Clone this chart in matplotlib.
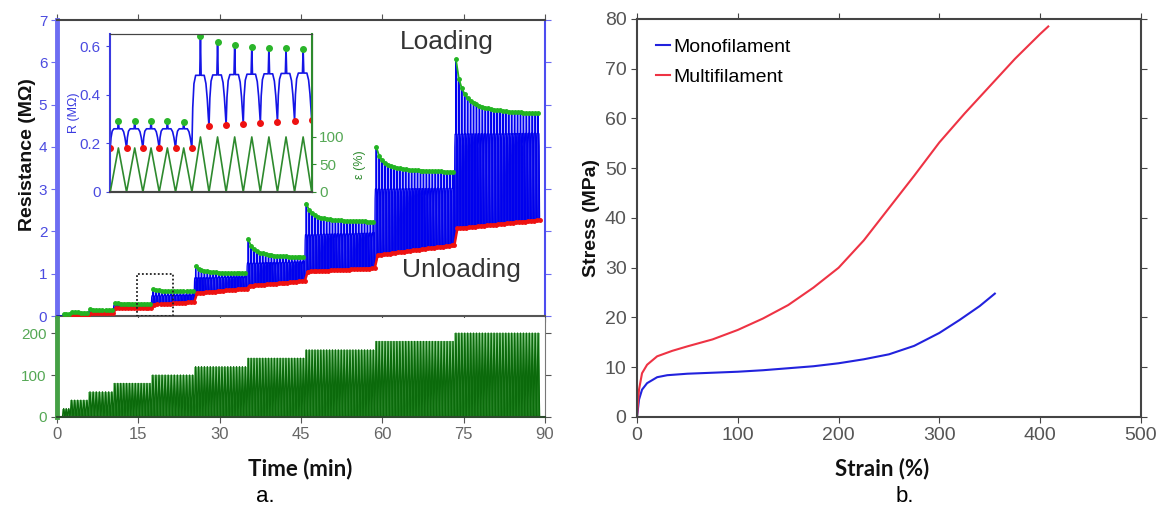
import matplotlib.pyplot as plt
import numpy as np
from matplotlib.patches import Rectangle

# ---- panel a: cyclic test, one entry per strain step ----
step_start = [1.0, 2.4, 5.8, 10.4, 17.4, 25.3, 35.0, 45.7, 58.6, 73.3]
step_end = [2.4, 5.8, 10.4, 17.4, 25.3, 35.0, 45.7, 58.6, 73.3, 89.0]
strain_level = [20, 40, 60, 80, 100, 120, 140, 160, 180, 200]
n_cycles = [3, 6, 8, 13, 14, 18, 20, 24, 27, 29]
peak_first = [0.04, 0.09, 0.16, 0.30, 0.64, 1.18, 1.81, 2.66, 4.00, 6.07]
peak_last = [0.04, 0.08, 0.14, 0.29, 0.58, 1.01, 1.39, 2.23, 3.41, 4.79]
plateau_first = [0.03, 0.06, 0.12, 0.26, 0.48, 0.90, 1.25, 1.92, 3.00, 4.30]
plateau_last = [0.03, 0.06, 0.12, 0.26, 0.50, 0.93, 1.28, 1.96, 3.02, 4.32]
valley_first = [0.00, 0.02, 0.06, 0.18, 0.27, 0.54, 0.71, 1.05, 1.44, 2.07]
valley_last = [0.01, 0.03, 0.08, 0.18, 0.33, 0.65, 0.83, 1.13, 1.68, 2.27]

# shape of one resistance cycle: phase in cycle, share of valley->plateau rise (nan = peak)
cycle_phase = [0.0, 0.05, 0.12, 0.22, 0.46, 0.5, 0.54, 0.72, 0.82, 0.9, 0.96]
cycle_shape = [0.0, 0.55, 0.88, 1.0, 1.0, np.nan, 1.0, 1.0, 0.85, 0.55, 0.2]

inset_window = [14.70, 21.36]
box_top = 0.99

# ---- panel b: tensile curves ----
mono_strain = [0, 2, 5, 10, 20, 30, 50, 75, 100, 125, 150, 175, 200, 225, 250, 275, 300, 320, 340, 355]
mono_stress = [0, 3.5, 5.5, 6.8, 8.0, 8.4, 8.7, 8.9, 9.1, 9.4, 9.8, 10.2, 10.8, 11.6, 12.6, 14.3, 16.9, 19.5, 22.3, 24.8]
multi_strain = [0, 2, 5, 10, 20, 35, 50, 75, 100, 125, 150, 175, 200, 225, 250, 275, 300, 325, 350, 375, 400, 408]
multi_stress = [0, 5.5, 8.8, 10.5, 12.2, 13.3, 14.2, 15.6, 17.5, 19.8, 22.5, 26.0, 30.0, 35.5, 42.0, 48.5, 55.2, 61.0, 66.5, 72.0, 77.0, 78.5]

# build the cycle sequence
t_R, R, base_R, plat_R = [0.0], [0.0], [0.0], [0.0]
t_eps, eps = [0.0], [0.0]
t_vl, vl = [], []
steps_pk = []
v_prev = 0.0
for i in range(len(step_start)):
    n = n_cycles[i]
    period = (step_end[i] - step_start[i]) / n
    w = 1 / (1 + np.arange(n) / 2)
    w = (w - w[-1]) / (1 - w[-1])
    frac = np.arange(n) / max(n - 1, 1)
    peaks = peak_last[i] + (peak_first[i] - peak_last[i]) * w
    plats = plateau_first[i] + (plateau_last[i] - plateau_first[i]) * frac
    valleys = valley_first[i] + (valley_last[i] - valley_first[i]) * frac
    tp = []
    for k in range(n):
        t0 = step_start[i] + k * period
        v0, v1 = v_prev, valleys[k]
        for ph, sh in zip(cycle_phase, cycle_shape):
            b = v0 + (v1 - v0) * ph
            t_R.append(t0 + ph * period)
            R.append(peaks[k] if np.isnan(sh) else b + sh * (plats[k] - b))
            base_R.append(b)
            plat_R.append(plats[k])
        t_eps += [t0, t0 + period / 2]
        eps += [0, strain_level[i]]
        tp.append(t0 + period / 2)
        t_vl.append(t0 + period)
        vl.append(v1)
        v_prev = v1
    steps_pk.append((np.array(tp), peaks, plats))
t_R.append(t_vl[-1]); R.append(vl[-1]); base_R.append(vl[-1]); plat_R.append(vl[-1])
t_eps.append(step_end[-1]); eps.append(0)
t_R = np.array(t_R); R = np.array(R)
base_R = np.array(base_R); plat_R = np.array(plat_R)

fig = plt.figure(figsize=(11.57, 5.09), dpi=100)
plt.rcParams['font.family'] = ['Liberation Sans', 'DejaVu Sans']

blue_tick = '#4b4be0'
green_tick = '#55a855'
gray = '#555555'

# top: resistance
ax = fig.add_axes([0.04927, 0.37917, 0.42178, 0.58153])
for tp, pk, pl in steps_pk:
    ax.fill_between(tp, pl, pk, color='#b8b8ff', lw=0, zorder=1)
ax.fill_between(t_R, base_R, np.minimum(R, plat_R), color='#1010e8', lw=0, zorder=2)
ax.plot(t_R, R, color='#0000ee', lw=0.9, zorder=3)
ax.plot(t_vl, vl, color='#ee1111', lw=1.8, marker='o', ms=2.5, zorder=4)
for tp, pk, pl in steps_pk:
    ax.plot(tp, pk, color='#22b422', lw=1.3, marker='o', ms=2.5, zorder=4)
ax.add_patch(Rectangle((inset_window[0], 0), inset_window[1] - inset_window[0], box_top,
                       fill=False, ls=(0, (1, 1.2)), lw=1.3, color='#222222', zorder=5))
ax.text(71.8, 6.48, 'Loading', ha='center', va='center', fontsize=19, color='#333333')
ax.text(74.6, 1.09, 'Unloading', ha='center', va='center', fontsize=19, color='#333333')
ax.set_xlim(0, 90)
ax.set_ylim(0, 7)
ax.set_xticks(np.arange(0, 91, 15))
ax.set_yticks(np.arange(0, 8, 1))
ax.tick_params(axis='x', labelbottom=False, top=True, direction='out', length=4, color=gray)
ax.tick_params(axis='y', right=True, labelsize=11, labelcolor=blue_tick, length=4,
               color='#6b6bf0', pad=3)
ax.spines['left'].set_color('#6d6df2')
ax.spines['left'].set_linewidth(3.5)
ax.spines['right'].set_color('#4d4df0')
ax.spines['right'].set_linewidth(1.5)
ax.spines['top'].set_color('#444444')
ax.spines['top'].set_linewidth(1.5)
ax.spines['bottom'].set_color('#555555')
ax.spines['bottom'].set_linewidth(1.5)

# bottom: strain
ax2 = fig.add_axes([0.04927, 0.18075, 0.42178, 0.1945])
for i in range(len(step_start)):
    ax2.fill_between([step_start[i], step_end[i]], 0, strain_level[i], color='#8ccc8c', lw=0)
ax2.fill_between(t_eps, 0, eps, color='#1e801e', lw=0)
ax2.plot(t_eps, eps, color='#0b6a0b', lw=1.0)
ax2.set_xlim(0, 90)
ax2.set_ylim(0, 236)
ax2.set_xticks(np.arange(0, 91, 15))
ax2.set_yticks([0, 100, 200])
ax2.tick_params(axis='x', labelsize=12, labelcolor='#666666', length=4, color=gray)
ax2.tick_params(axis='y', right=True, labelsize=11, labelcolor=green_tick, length=4, color=gray)
ax2.spines['top'].set_visible(False)
ax2.spines['left'].set_color('#45a045')
ax2.spines['left'].set_linewidth(3.5)
ax2.spines['right'].set_color('#777777')
ax2.spines['bottom'].set_color('#2e4a2e')
ax2.spines['bottom'].set_linewidth(1.5)

# inset
axi = fig.add_axes([0.09507, 0.62279, 0.17459, 0.31041])
axi.plot(t_R, R, color='#1515e6', lw=1.2)
axi.plot(t_vl, vl, 'o', color='#ee1111', ms=4)
for tp, pk, pl in steps_pk:
    axi.plot(tp, pk, 'o', color='#2ab52a', ms=4)
axi.set_xlim(inset_window)
axi.set_ylim(0, 0.65)
axi.set_xticks([])
axi.set_yticks([0, 0.2, 0.4, 0.6])
axi.set_yticklabels(['0', '0.2', '0.4', '0.6'])
axi.tick_params(axis='y', labelsize=11, labelcolor=blue_tick, length=3, color='#4040e0')
axi.set_ylabel('R (M\u03a9)', fontsize=9, color='#3a3ae0', labelpad=0)
axi.spines['left'].set_color('#3a3ae0')
axi.spines['left'].set_linewidth(1.5)
axt = axi.twinx()
axt.plot(t_eps, eps, color='#2e8a2e', lw=1.2)
axt.set_xlim(inset_window)
axt.set_ylim(0, 287)
axt.set_yticks([0, 50, 100])
axt.tick_params(axis='y', labelsize=11, labelcolor=green_tick, length=3, color='#2e8a2e', pad=2)
axt.spines['right'].set_color('#2e8a2e')
axt.spines['right'].set_linewidth(1.5)
axt.spines['left'].set_visible(False)
for a in (axi, axt):
    a.spines['top'].set_color('#444444')
    a.spines['bottom'].set_color('#444444')
    a.spines['bottom'].set_linewidth(1.5)
fig.text(360 / 1157, 1 - 165 / 509, '\u03b5 (%)', rotation=90, ha='center', va='center',
         fontsize=9, color='#2e8a2e')

fig.text(28 / 1157, 1 - 155 / 509, 'Resistance (M\u03a9)', rotation=90, ha='center',
         va='center', fontsize=14, fontweight='bold', color='#111111')
fig.text(300 / 1157, 1 - 469 / 509, 'Time (min)', ha='center', va='center', fontsize=16,
         fontweight='bold', family=['Lato', 'DejaVu Sans'], color='#111111')
fig.text(265 / 1157, 1 - 497 / 509, 'a.', ha='center', va='center', fontsize=16)

# panel b
axb = fig.add_axes([0.55056, 0.18075, 0.4356, 0.78193])
axb.plot(mono_strain, mono_stress, color='#2222dd', lw=1.5, label='Monofilament')
axb.plot(multi_strain, multi_stress, color='#ee3344', lw=1.5, label='Multifilament')
axb.set_xlim(0, 500)
axb.set_ylim(0, 80)
axb.set_xticks(np.arange(0, 501, 100))
axb.set_yticks(np.arange(0, 81, 10))
axb.tick_params(top=True, right=True, labelsize=14, labelcolor=gray, length=4, color='#444444')
for s in axb.spines.values():
    s.set_color('#444444')
    s.set_linewidth(1.5)
axb.legend(loc='upper left', frameon=False, fontsize=14, handlelength=0.7,
           handletextpad=0.15, borderaxespad=0.8, labelspacing=0.65,
           borderpad=0.2)
fig.text(591 / 1157, 1 - 218 / 509, 'Stress (MPa)', rotation=90, ha='center', va='center',
         fontsize=14, fontweight='bold', color='#111111')
fig.text(882 / 1157, 1 - 469 / 509, 'Strain (%)', ha='center', va='center', fontsize=16,
         fontweight='bold', family=['Lato', 'DejaVu Sans'], color='#111111')
fig.text(905 / 1157, 1 - 497 / 509, 'b.', ha='center', va='center', fontsize=16)

plt.savefig('out.png', dpi=100)
